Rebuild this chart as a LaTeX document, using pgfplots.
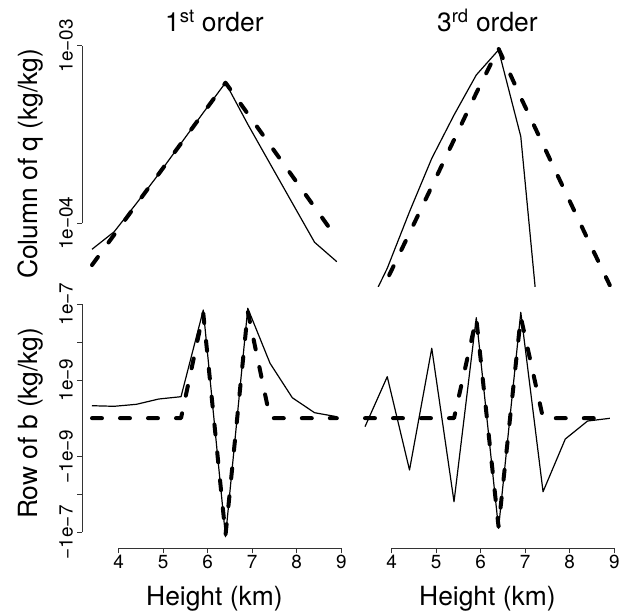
\documentclass[border=0pt]{standalone}
\usepackage{fontspec}
\setmainfont{TeX Gyre Heros}
\usepackage{pgfplots}
\usepackage{pgfplotstable}
\pgfplotsset{compat=1.18}

% Column of q, 1st order
\pgfplotstableread{
x solid dashed
3.4 7.14e-5 5.82e-5
3.9 8.97e-5 8.63e-5
4.4 1.296e-4 1.280e-4
4.9 1.895e-4 1.898e-4
5.4 2.82e-4 2.815e-4
5.9 4.196e-4 4.175e-4
6.4 6.19e-4 6.19e-4
6.9 3.61e-4 4.135e-4
7.4 2.166e-4 2.762e-4
7.9 1.301e-4 1.845e-4
8.4 7.82e-5 1.233e-4
8.9 6.08e-5 8.24e-5
}\tlq
% Column of q, 3rd order
\pgfplotstableread{
x solid dashed
3.4 3.08e-5 2.65e-5
3.9 5.58e-5 4.85e-5
4.4 1.162e-4 8.81e-5
4.9 2.32e-4 1.611e-4
5.4 4.07e-4 2.953e-4
5.9 6.84e-4 5.41e-4
6.4 9.46e-4 9.62e-4
6.9 3.08e-4 5.11e-4
7.4 1.49e-5 2.774e-4
7.9 8e-6 1.505e-4
8.4 5e-6 8.17e-5
8.9 4e-6 4.48e-5
}\trq
% Row of b, 1st order
\pgfplotstableread{
x solid dashed
3.4 1.65e-10 0
3.9 1.56e-10 0
4.4 1.88e-10 0
4.9 2.87e-10 0
5.4 3.39e-10 0
5.9 6.95e-8 5.70e-8
6.4 -1.306e-7 -1.178e-7
6.9 7.71e-8 6.28e-8
7.4 2.76e-9 0
7.9 3.15e-10 0
8.4 6.7e-11 0
8.9 1.75e-11 0
}\blb
% Row of b, 3rd order
\pgfplotstableread{
x solid dashed
3.4 -1.08e-10 0
3.9 1.22e-9 0
4.4 -2.30e-9 0
4.9 6.84e-9 0
5.4 -1.57e-8 0
5.9 4.37e-8 4.2e-8
6.4 -7.87e-8 -7.13e-8
6.9 6.04e-8 4.55e-8
7.4 -8.57e-9 0
7.9 -3.25e-10 0
8.4 -3.5e-11 0
8.9 -2e-12 0
}\brb

\pgfplotsset{
  rstyle/.style={
    scale only axis, width=264.4bp, height=249.5bp, anchor=south west,
    xmin=3.18, xmax=9.12, clip mode=individual,
    tick align=outside, major tick length=5bp,
    tick style={black!80, line width=0.8bp},
    axis line style={draw=none},
    xminorticks=false, yminorticks=false,
    ticklabel style={font=\fontsize{19}{22}\selectfont},
    /pgf/number format/assume math mode=true,
    xtick={4,5,6,7,8,9},
    xticklabel style={inner sep=1.5bp},
    yticklabel style={rotate=90, anchor=south, inner sep=4bp},
  },
  solidl/.style={black, line width=1.2bp, line join=round},
  dashl/.style={black, line width=4bp, dash pattern=on 10bp off 18bp, line cap=round, line join=round},
  symlog/.style={y filter/.expression={y<0 ? -ln(-y*5e9+sqrt(y*y*2.5e19+1))/ln(10) : ln(y*5e9+sqrt(y*y*2.5e19+1))/ln(10)}},
}

\begin{document}
\begin{tikzpicture}
\useasboundingbox (0,0) rectangle (632bp,615bp);

% Top left
\begin{axis}[rstyle, ymode=log, ymin=4.4357e-5, ymax=1.1264e-3, at={(82.2bp,329bp)},
  axis x line=none, axis y line*=left,
  ytick={1e-4,1e-3}, yticklabels={{1e−04},{1e−03}}]
\addplot[solidl] table[x=x,y=solid]{\tlq};
\addplot[dashl] table[x=x,y=dashed]{\tlq};
\draw[black!80, line width=0.8bp] (axis cs:3.18,1e-4) -- (axis cs:3.18,1e-3);
\end{axis}

% Top right
\begin{axis}[rstyle, ymode=log, ymin=4.4357e-5, ymax=1.1264e-3, at={(355.2bp,329bp)}, hide axis]
\addplot[solidl] table[x=x,y=solid]{\trq};
\addplot[dashl] table[x=x,y=dashed]{\trq};
\end{axis}

% Bottom left
\begin{axis}[rstyle, ymin=-3.4205, ymax=3.1367, at={(82.2bp,66.7bp)},
  axis x line*=bottom, axis y line*=left,
  ytick={-3,-2,-1.0043,1.0043,2,3},
  yticklabels={{−1e−7},{},{−1e−9},{1e−9},{},{1e−7}}]
\addplot[solidl, symlog] table[x=x,y=solid]{\blb};
\addplot[dashl, symlog] table[x=x,y=dashed]{\blb};
\draw[black!80, line width=0.8bp] (axis cs:3.18,-3) -- (axis cs:3.18,3);
\draw[black!80, line width=0.8bp] (axis cs:4,-3.4205) -- (axis cs:9,-3.4205);
\end{axis}

% Bottom right
\begin{axis}[rstyle, ymin=-3.4205, ymax=3.1367, at={(355.2bp,66.7bp)},
  axis x line*=bottom, axis y line=none]
\addplot[solidl, symlog] table[x=x,y=solid]{\brb};
\addplot[dashl, symlog] table[x=x,y=dashed]{\brb};
\draw[black!80, line width=0.8bp] (axis cs:4,-3.4205) -- (axis cs:9,-3.4205);
\end{axis}

% Titles and labels
\node[anchor=base, font=\fontsize{26.5}{30}\selectfont] at (214.4bp,583.5bp) {1\textsuperscript{st} order};
\node[anchor=base, font=\fontsize{26.5}{30}\selectfont] at (487.4bp,583.5bp) {3\textsuperscript{rd} order};
\node[anchor=base, font=\fontsize{26.5}{30}\selectfont] at (214.4bp,10bp) {Height (km)};
\node[anchor=base, font=\fontsize{26.5}{30}\selectfont] at (487.4bp,10bp) {Height (km)};
\node[anchor=base, rotate=90, font=\fontsize{26.5}{30}\selectfont] at (37bp,451bp) {Column of q (kg/kg)};
\node[anchor=base, rotate=90, font=\fontsize{26.5}{30}\selectfont] at (37bp,191.5bp) {Row of b (kg/kg)};
\end{tikzpicture}
\end{document}
